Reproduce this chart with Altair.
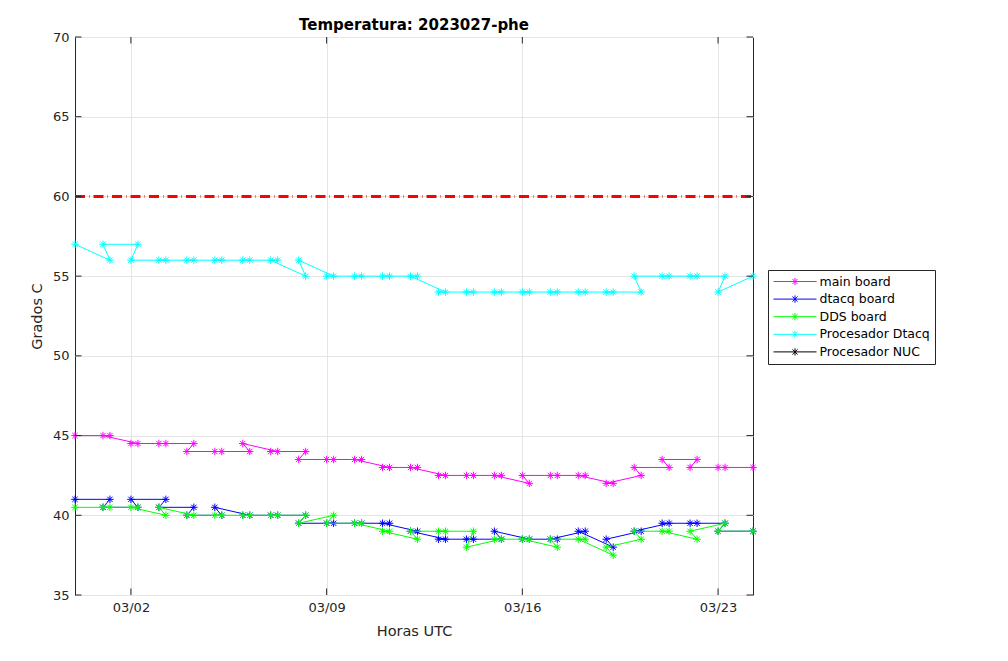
import altair as alt
import pandas as pd

# ---------------- data (in plotting order) ----------------
times = [
    "2023-02-28T00:00",
    "2023-03-01T06:00", "2023-03-01T00:00",
    "2023-03-02T06:00", "2023-03-02T00:00",
    "2023-03-03T06:00", "2023-03-03T00:00",
    "2023-03-04T06:00", "2023-03-04T00:00",
    "2023-03-05T06:00", "2023-03-05T00:00",
    "2023-03-06T06:00", "2023-03-06T00:00",
    "2023-03-07T06:00", "2023-03-07T00:00",
    "2023-03-08T06:00", "2023-03-08T00:00",
    "2023-03-09T06:00", "2023-03-09T00:00",
    "2023-03-10T06:00", "2023-03-10T00:00",
    "2023-03-11T06:00", "2023-03-11T00:00",
    "2023-03-12T06:00", "2023-03-12T00:00",
    "2023-03-13T06:00", "2023-03-13T00:00",
    "2023-03-14T06:00", "2023-03-14T00:00",
    "2023-03-15T06:00", "2023-03-15T00:00",
    "2023-03-16T06:00", "2023-03-16T00:00",
    "2023-03-17T06:00", "2023-03-17T00:00",
    "2023-03-18T06:00", "2023-03-18T00:00",
    "2023-03-19T06:00", "2023-03-19T00:00",
    "2023-03-20T06:00", "2023-03-20T00:00",
    "2023-03-21T06:00", "2023-03-21T00:00",
    "2023-03-22T06:00", "2023-03-22T00:00",
    "2023-03-23T06:00", "2023-03-23T00:00",
    "2023-03-24T06:00",
]

main_board = [
    45,
    45, 45, 44.5, 44.5, 44.5, 44.5, 44.5, 44, 44, 44,
    44, 44.5, 44, 44, 44, 43.5, 43.5, 43.5, 43.5, 43.5,
    43, 43, 43, 43, 42.5, 42.5, 42.5, 42.5, 42.5, 42.5,
    42, 42.5, 42.5, 42.5, 42.5, 42.5, 42, 42, 42.5, 43,
    43, 43.5, 43.5, 43, 43, 43,
    43,
]

dtacq_board = [
    41,
    41, 40.5, 40.5, 41, 41, 40.5, 40.5, 40, 40, 40.5,
    40, 40, 40, 40, 40, 39.5, 39.5, 39.5, 39.5, 39.5,
    39.5, 39.5, 39, 39, 38.5, 38.5, 38.5, 38.5, 38.5, 39,
    38.5, 38.5, 38.5, 38.5, 39, 39, 38, 38.5, 39, 39,
    39.5, 39.5, 39.5, 39.5, 39.5, 39,
    39,
]

dds_board = [
    40.5,
    40.5, 40.5, 40.5, 40.5, 40, 40.5, 40, 40, 40, 40,
    40, 40, 40, 40, 40, 39.5, 40, 39.5, 39.5, 39.5,
    39, 39, 38.5, 39, 39, 39, 39, 38, 38.5, 38.5,
    38.5, 38.5, 38, 38.5, 38.5, 38.5, 37.5, 38, 38.5, 39,
    39, 39, 38.5, 39, 39.5, 39,
    39,
]

procesador_dtacq = [
    57,
    56, 57, 57, 56, 56, 56, 56, 56, 56, 56,
    56, 56, 56, 56, 55, 56, 55, 55, 55, 55,
    55, 55, 55, 55, 54, 54, 54, 54, 54, 54,
    54, 54, 54, 54, 54, 54, 54, 54, 54, 55,
    55, 55, 55, 55, 55, 54,
    55,
]

series_names = ["main board", "dtacq board", "DDS board", "Procesador Dtacq", "Procesador NUC"]
series_colors = ["#ff00ff", "#0000ff", "#00ff00", "#00ffff", "#000000"]
series_values = [main_board, dtacq_board, dds_board, procesador_dtacq]

limit_value = 60
limit_times = ["2023-02-28T00:00", "2023-03-24T06:00"]

x_tick_dates = ["2023-03-02T00:00", "2023-03-09T00:00", "2023-03-16T00:00", "2023-03-23T00:00"]
y_ticks = [35, 40, 45, 50, 55, 60, 65, 70]

# ---------------- tables ----------------
rows = []
for name, vals in zip(series_names, series_values):
    for i, (t, v) in enumerate(zip(times, vals)):
        rows.append({"series": name, "t": t, "v": v, "idx": i})
df = pd.DataFrame(rows)
limit_df = pd.DataFrame({"t": limit_times, "v": [limit_value] * len(limit_times)})
xtick_df = pd.DataFrame({"t": x_tick_dates})
ytick_df = pd.DataFrame({"v": y_ticks})

# ---------------- styling ----------------
W, H = 678, 558
TICK = 6.5
FONT = "DejaVu Sans"
AX = "#262626"
GRID = "#e5e5e5"

MARKER = "M0,-1L0,1M-1,0L1,0M-0.71,-0.71L0.71,0.71M-0.71,0.71L0.71,-0.71"
LEGEND_SYMBOL = ("M-1,0L1,0M0,-0.17L0,0.17M-0.12,-0.12L0.12,0.12"
                 "M-0.12,0.12L0.12,-0.12")

x_scale = alt.Scale(
    domain=[alt.DateTime(year=2023, month=2, date=28, hours=0),
            alt.DateTime(year=2023, month=3, date=24, hours=6)],
    nice=False,
)
y_scale = alt.Scale(domain=[35, 70], nice=False, zero=False)

x_axis = alt.Axis(
    values=[alt.DateTime(year=2023, month=3, date=d) for d in (2, 9, 16, 23)],
    format="%m/%d", title="Horas UTC", grid=True, gridColor=GRID, ticks=False,
    domain=False, labelFont=FONT, labelFontSize=13, labelColor=AX, labelPadding=6,
    titleFont=FONT, titleFontSize=14.5, titleFontWeight="normal", titleColor=AX,
    titlePadding=10, labelFlush=False,
)
y_axis = alt.Axis(
    values=y_ticks, title="Grados C", grid=True, gridColor=GRID, ticks=False,
    domain=False, labelFont=FONT, labelFontSize=13, labelColor=AX, labelPadding=6,
    titleFont=FONT, titleFontSize=14.5, titleFontWeight="normal", titleColor=AX,
    titlePadding=8,
)

legend = alt.Legend(
    title=None, orient="none", legendX=693, legendY=233, direction="vertical",
    symbolType=LEGEND_SYMBOL, symbolSize=1849, symbolStrokeWidth=1,
    symbolFillColor="transparent", clipHeight=13, rowPadding=4.6, padding=5,
    labelOffset=2.5, labelFont=FONT, labelFontSize=12.5, labelColor="#000000",
    strokeColor=AX, fillColor="#ffffff",
)
color = alt.Color("series:N", scale=alt.Scale(domain=series_names, range=series_colors),
                  legend=legend)

X = alt.X("t:T", scale=x_scale, axis=x_axis)
Y = alt.Y("v:Q", scale=y_scale, axis=y_axis)

layers = []
for name in series_names[:4]:
    base = alt.Chart(df).transform_filter(alt.datum.series == name)
    layers.append(base.mark_line(strokeWidth=1).encode(
        x=X, y=Y, color=color, order=alt.Order("idx:Q")))
    layers.append(base.mark_point(shape=MARKER, size=56, filled=False, strokeWidth=1,
                                  opacity=1).encode(x=X, y=Y, color=color))

limit_line = alt.Chart(limit_df).mark_line(
    color="#ff0000", strokeWidth=3, strokeDash=[10, 4, 0.5, 4], strokeCap="butt"
).encode(x=X, y=Y)

top_ticks = alt.Chart(xtick_df).mark_rule(color=AX, strokeWidth=1).encode(
    x=X, y=alt.value(0), y2=alt.value(TICK))
bottom_ticks = alt.Chart(xtick_df).mark_rule(color=AX, strokeWidth=1).encode(
    x=X, y=alt.value(H), y2=alt.value(H - TICK))
left_ticks = alt.Chart(ytick_df).mark_rule(color=AX, strokeWidth=1).encode(
    y=Y, x=alt.value(0), x2=alt.value(TICK))
right_ticks = alt.Chart(ytick_df).mark_rule(color=AX, strokeWidth=1).encode(
    y=Y, x=alt.value(W), x2=alt.value(W - TICK))

chart = alt.layer(
    *layers, limit_line, top_ticks, bottom_ticks, left_ticks, right_ticks
).properties(
    width=W, height=H,
    title=alt.TitleParams("Temperatura: 2023027-phe", font=FONT, fontSize=15,
                          fontWeight="bold", color="#000000", offset=0, dy=2,
                          anchor="middle"),
    autosize=alt.AutoSizeParams(type="none"),
    padding={"left": 67, "top": 29, "right": 240, "bottom": 60},
    background="#ffffff",
).configure_view(stroke=AX, strokeWidth=1)

chart.save("out.html", embed_options={"renderer": "svg", "actions": False})
